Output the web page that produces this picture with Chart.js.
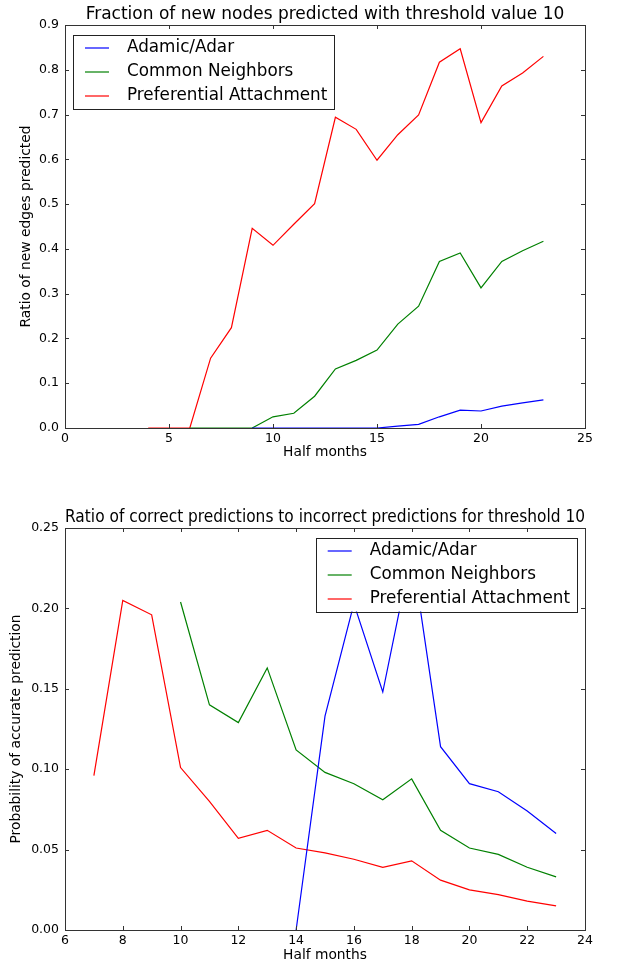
<!DOCTYPE html>
<html>
<head>
<meta charset="utf-8">
<script src="https://cdn.jsdelivr.net/npm/chart.js@4.4.0/dist/chart.umd.min.js"></script>
<style>
body{margin:0;background:#fff;}
#top{position:absolute;left:0;top:0;width:619px;height:480px;}
#bottom{position:absolute;left:0;top:490px;width:619px;height:476px;}
</style>
</head>
<body>
<div id="top"><canvas id="chartTop"></canvas></div>
<div id="bottom"><canvas id="chartBottom"></canvas></div>
<script>
var names = ['Adamic/Adar', 'Common Neighbors', 'Preferential Attachment'];
var colors = ['#0000ff', '#008000', '#ff0000'];

// top chart: fraction of new nodes predicted
var topMonthsAA = [9,10,11,12,13,14,15,16,17,18,19,20,21,22,23];
var topAA = [0,0,0,0,0,0,0,0.004,0.008,0.025,0.040,0.038,0.049,0.056,0.063];
var topMonthsCN = [6,7,8,9,10,11,12,13,14,15,16,17,18,19,20,21,22,23];
var topCN = [0,0,0,0,0.025,0.033,0.071,0.132,0.151,0.174,0.232,0.272,0.372,0.391,0.313,0.372,0.396,0.417];
var topMonthsPA = [4,5,6,7,8,9,10,11,12,13,14,15,16,17,18,19,20,21,22,23];
var topPA = [0,0,0,0.156,0.224,0.446,0.408,0.455,0.501,0.694,0.667,0.598,0.655,0.699,0.817,0.847,0.682,0.764,0.793,0.830];

// bottom chart: ratio of correct to incorrect predictions
var botMonthsAA = [14,15,16,17,18,19,20,21,22,23];
var botAA = [0,0.133,0.203,0.148,0.236,0.114,0.091,0.086,0.074,0.060];
var botMonthsCN = [10,11,12,13,14,15,16,17,18,19,20,21,22,23];
var botCN = [0.204,0.140,0.129,0.163,0.112,0.098,0.091,0.081,0.094,0.062,0.051,0.047,0.039,0.033];
var botMonthsPA = [7,8,9,10,11,12,13,14,15,16,17,18,19,20,21,22,23];
var botPA = [0.096,0.205,0.196,0.101,0.080,0.057,0.062,0.051,0.048,0.044,0.039,0.043,0.031,0.025,0.022,0.018,0.015];

function pts(xs, ys){
    return xs.map(function(x, i){ return {x: x, y: ys[i]}; });
}

function makeSets(m1, v1, m2, v2, m3, v3){
    var all = [[m1, v1], [m2, v2], [m3, v3]];
    return all.map(function(s, i){
        return {
            label: names[i],
            data: pts(s[0], s[1]),
            borderColor: colors[i],
            backgroundColor: colors[i],
            borderWidth: 1.2,
            pointRadius: 0,
            tension: 0,
            fill: false
        };
    });
}

// frame + inward ticks on all four sides, and a boxed legend inside the plot
var mplFrame = {
    id: 'mplFrame',
    afterDraw: function(chart, args, opts){
        var c = chart.ctx, a = chart.chartArea;
        var xs = chart.scales.x, ys = chart.scales.y;
        c.save();
        c.strokeStyle = '#333';
        c.lineWidth = 1;
        c.beginPath();
        xs.ticks.forEach(function(t){
            var px = Math.round(xs.getPixelForValue(t.value)) + 0.5;
            c.moveTo(px, a.bottom); c.lineTo(px, a.bottom - 4);
            c.moveTo(px, a.top); c.lineTo(px, a.top + 4);
        });
        ys.ticks.forEach(function(t){
            var py = Math.round(ys.getPixelForValue(t.value)) + 0.5;
            c.moveTo(a.left, py); c.lineTo(a.left + 4, py);
            c.moveTo(a.right, py); c.lineTo(a.right - 4, py);
        });
        c.stroke();
        c.strokeRect(Math.round(a.left) + 0.5, Math.round(a.top) + 0.5,
            Math.round(a.right - a.left), Math.round(a.bottom - a.top));

        // legend
        c.font = '16.8px "DejaVu Sans"';
        var w = 0;
        chart.data.datasets.forEach(function(d){ w = Math.max(w, c.measureText(d.label).width); });
        var bw = 53 + w + 8, bh = 74;
        var bx = opts.corner === 'left' ? a.left + 8 : a.right - 8 - bw;
        var by = a.top + 9.5;
        c.fillStyle = '#fff';
        c.fillRect(bx, by, bw, bh);
        c.strokeStyle = '#222';
        c.strokeRect(Math.round(bx) + 0.5, Math.round(by) + 0.5, Math.round(bw), Math.round(bh));
        c.textBaseline = 'middle';
        chart.data.datasets.forEach(function(d, i){
            var ry = by + 13.5 + i * 24;
            c.strokeStyle = d.borderColor;
            c.lineWidth = 1.2;
            c.beginPath();
            c.moveTo(bx + 12, ry); c.lineTo(bx + 36, ry);
            c.stroke();
            c.fillStyle = '#000';
            c.fillText(d.label, bx + 54, ry);
        });
        c.restore();
    }
};

Chart.defaults.font.family = '"DejaVu Sans"';
Chart.defaults.color = '#000';

function makeChart(id, sets, cfg){
    return new Chart(document.getElementById(id), {
        type: 'line',
        data: {datasets: sets},
        plugins: [mplFrame],
        options: {
            responsive: true,
            maintainAspectRatio: false,
            animation: false,
            layout: {padding: {left: 0, right: 34, top: cfg.padTop, bottom: cfg.padBottom}},
            plugins: {
                legend: {display: false},
                tooltip: {enabled: false},
                title: {
                    display: true,
                    text: cfg.title,
                    fullSize: false,
                    font: {size: 17, weight: 'normal'},
                    padding: cfg.titlePad
                },
                mplFrame: {corner: cfg.corner}
            },
            scales: {
                x: {
                    type: 'linear',
                    min: cfg.xmin, max: cfg.xmax,
                    grid: {display: false, drawTicks: false},
                    border: {display: false},
                    ticks: {stepSize: cfg.xstep, padding: 3, font: {size: 12.5}, maxRotation: 0},
                    title: {display: true, text: 'Half months', font: {size: 13.8}, padding: {top: 0, bottom: cfg.xTitlePad}},
                    afterFit: function(s){ s.height = cfg.xHeight; }
                },
                y: {
                    min: 0, max: cfg.ymax,
                    grid: {display: false, drawTicks: false},
                    border: {display: false},
                    ticks: {stepSize: cfg.ystep, padding: 6, font: {size: 12.5},
                        callback: function(v){ return v.toFixed(cfg.dec); }},
                    title: {display: true, text: cfg.ytitle, font: {size: 13.8}, padding: {top: cfg.yTitlePad, bottom: 0}},
                    afterFit: function(s){ s.width = 65; }
                }
            }
        }
    });
}

makeChart('chartTop', makeSets(topMonthsAA, topAA, topMonthsCN, topCN, topMonthsPA, topPA), {
    title: 'Fraction of new nodes predicted with threshold value 10',
    titlePad: {top: 4.2, bottom: 0.4},
    padTop: 0, padBottom: 12, xHeight: 40, xTitlePad: 7,
    xmin: 0, xmax: 25, xstep: 5, ymax: 0.9, ystep: 0.1, dec: 1,
    ytitle: 'Ratio of new edges predicted', yTitlePad: 18.6, corner: 'left'
});

makeChart('chartBottom', makeSets(botMonthsAA, botAA, botMonthsCN, botCN, botMonthsPA, botPA), {
    title: 'Ratio of correct predictions to incorrect predictions for threshold 10',
    titlePad: {top: 0, bottom: 0.4},
    padTop: 17.2, padBottom: 0, xHeight: 36, xTitlePad: 2.6,
    xmin: 6, xmax: 24, xstep: 2, ymax: 0.25, ystep: 0.05, dec: 2,
    ytitle: 'Probability of accurate prediction', yTitlePad: 8.6, corner: 'right'
});
</script>
</body>
</html>
